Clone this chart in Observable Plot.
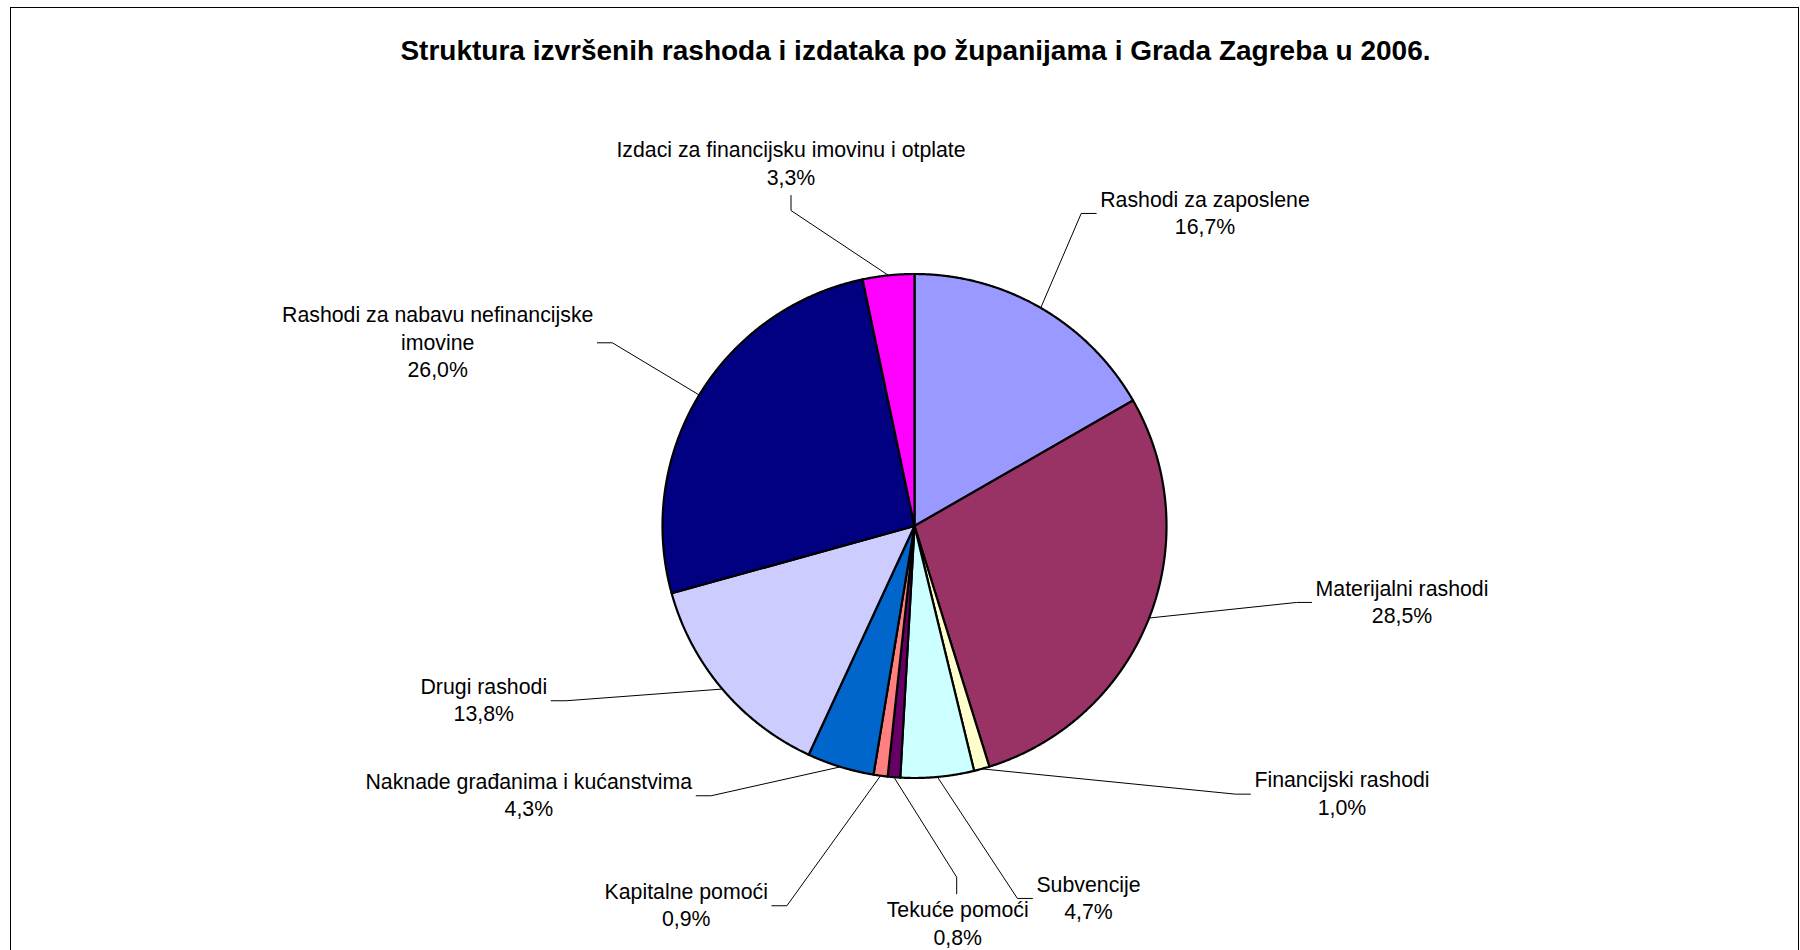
<!DOCTYPE html>
<html><head><meta charset="utf-8">
<script src="https://cdn.jsdelivr.net/npm/d3@7"></script>
<script src="https://cdn.jsdelivr.net/npm/@observablehq/plot@0.6"></script>
<style>
html,body{margin:0;padding:0;width:1800px;height:950px;overflow:hidden;background:#fff;font-family:'Liberation Sans',Arial,sans-serif;}
#frame{position:absolute;left:10px;top:7px;width:1787px;height:1000px;border:1px solid #000;box-sizing:content-box;}
#title{position:absolute;left:0;width:1831px;top:37px;text-align:center;font-weight:bold;font-size:28px;line-height:28px;white-space:nowrap;color:#000;}
#chart{position:absolute;left:0;top:90px;}
</style></head><body>
<div id="frame"></div>
<div id="title">Struktura izvršenih rashoda i izdataka po županijama i Grada Zagreba u 2006.</div>
<div id="chart"></div>
<script>
// ---- data ----
const categories = [
  "Rashodi za zaposlene",
  "Materijalni rashodi",
  "Financijski rashodi",
  "Subvencije",
  "Tekuće pomoći",
  "Kapitalne pomoći",
  "Naknade građanima i kućanstvima",
  "Drugi rashodi",
  "Rashodi za nabavu nefinancijske imovine",
  "Izdaci za financijsku imovinu i otplate"
];
const shares = [16.7, 28.5, 1.0, 4.7, 0.8, 0.9, 4.3, 13.8, 26.0, 3.3];
const shareLabels = ["16,7%", "28,5%", "1,0%", "4,7%", "0,8%", "0,9%", "4,3%", "13,8%", "26,0%", "3,3%"];
const nameLines = [
  ["Rashodi za zaposlene"],
  ["Materijalni rashodi"],
  ["Financijski rashodi"],
  ["Subvencije"],
  ["Tekuće pomoći"],
  ["Kapitalne pomoći"],
  ["Naknade građanima i kućanstvima"],
  ["Drugi rashodi"],
  ["Rashodi za nabavu nefinancijske", "imovine"],
  ["Izdaci za financijsku imovinu i otplate"]
];

// ---- style / layout ----
const colors = ["#9999FF", "#993366", "#FFFFCC", "#CCFFFF", "#660066", "#FF8080", "#0066CC", "#CCCCFF", "#000080", "#FF00FF"];
const W = 1800, TOP = 90, H = 860;
const CX = 914, CY = 525.5, R = 252;
const FONT = 21.3, LH = 27.3;
// label box centre x, first baseline y (page coords), and side of the box the leader attaches to
const labelX = [1204.5, 1401.5, 1341.5, 1088, 957.2, 685.7, 528.3, 483.3, 437.2, 790.5];
const labelY = [206, 595, 786.7, 891, 916.7, 898.3, 788.3, 693.3, 321.7, 156.7];
const labelSide = ["L", "L", "L", "L", "T", "R", "R", "R", "R", "B"];

const ctx = document.createElement("canvas").getContext("2d");
ctx.font = `${FONT}px 'Liberation Sans', Arial, sans-serif`;

const pie = d3.pie().sort(null).value(d => d.v).startAngle(0).endAngle(2 * Math.PI);
const arcs = pie(categories.map((c, i) => ({name: c, v: shares[i]})));

const pt = (a, r) => [CX + r * Math.sin(a), CY - r * Math.cos(a)];

// slice polygons
const slicePts = [];
arcs.forEach(a => {
  const name = a.data.name;
  slicePts.push({name, x: CX, y: CY});
  const n = Math.max(2, Math.ceil((a.endAngle - a.startAngle) / (0.25 * Math.PI / 180)));
  for (let k = 0; k <= n; k++) {
    const t = a.startAngle + (a.endAngle - a.startAngle) * k / n;
    const [x, y] = pt(t, R);
    slicePts.push({name, x, y});
  }
  slicePts.push({name, x: CX, y: CY});
});

// labels and leaders
const textRows = [];
const leaderPts = [];
arcs.forEach((a, i) => {
  const lines = [...nameLines[i], shareLabels[i]];
  const n = lines.length;
  lines.forEach((t, j) => textRows.push({x: labelX[i], y: labelY[i] + j * LH, text: t}));
  const w = d3.max(lines, t => ctx.measureText(t).width);
  const mid = (a.startAngle + a.endAngle) / 2;
  const [ex, ey] = pt(mid, R);
  let ax, ay, bx, by;
  const side = labelSide[i];
  if (side === "L" || side === "R") {
    ay = labelY[i] + (n - 1) * LH / 2 - 6.7;
    ax = side === "L" ? labelX[i] - w / 2 - 4 : labelX[i] + w / 2 + 4;
    bx = side === "L" ? ax - 15 : ax + 15;
    by = ay;
  } else if (side === "T") {
    ax = labelX[i] - 1; ay = labelY[i] - 23.4;
    bx = ax; by = ay - 16.6;
  } else {
    ax = labelX[i]; ay = labelY[i] + (n - 1) * LH + 11;
    bx = ax; by = ay + 15;
  }
  leaderPts.push({name: categories[i], x: ex, y: ey}, {name: categories[i], x: bx, y: by}, {name: categories[i], x: ax, y: ay});
});

const chart = Plot.plot({
  width: W,
  height: H,
  marginTop: 0, marginRight: 0, marginBottom: 0, marginLeft: 0,
  style: {fontFamily: "'Liberation Sans', Arial, sans-serif", background: "transparent", overflow: "visible"},
  x: {domain: [0, W], range: [0, W], axis: null},
  y: {domain: [TOP, TOP + H], range: [0, H], axis: null},
  color: {domain: categories, range: colors},
  marks: [
    Plot.line(leaderPts, {x: "x", y: "y", z: "name", stroke: "#000", strokeWidth: 1, curve: "linear"}),
    Plot.line(slicePts, {x: "x", y: "y", z: "name", fill: "name", stroke: "#000", strokeWidth: 2.2, strokeLinejoin: "round", curve: "linear"}),
    Plot.text(textRows, {x: "x", y: "y", text: "text", textAnchor: "middle", lineAnchor: "bottom", fontSize: FONT, fill: "#000"})
  ]
});
document.getElementById("chart").appendChild(chart);
</script>
</body></html>
